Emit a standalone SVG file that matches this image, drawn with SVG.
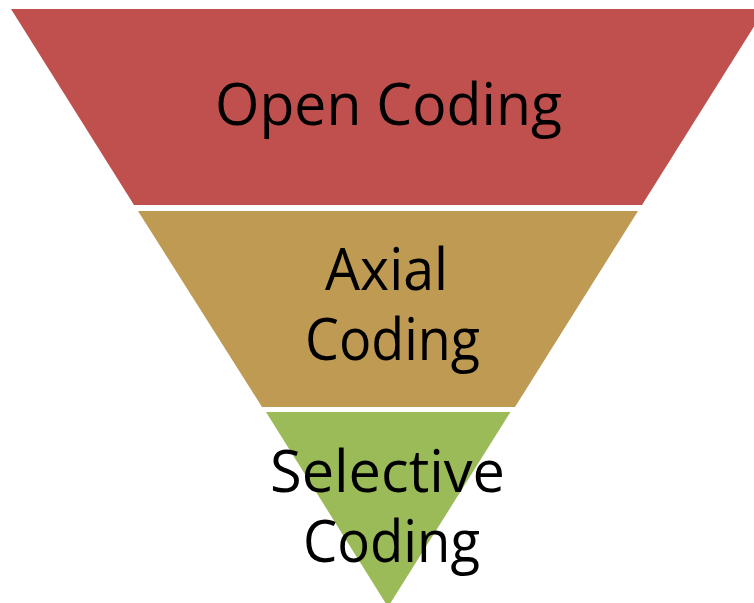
<svg xmlns="http://www.w3.org/2000/svg" width="754" height="603" viewBox="0 0 754 603">
  <style>
    .label { font-family: "Open Sans", "Noto Sans", sans-serif; font-size: 58px; fill: #000; text-anchor: middle; }
  </style>
  <rect width="754" height="603" fill="#ffffff"/>
  <g id="open-coding">
    <polygon points="11,9 765,9 642,205 134,205" fill="#C0504D"/>
    <text class="label" x="388.5" y="125" textLength="347" lengthAdjust="spacingAndGlyphs">Open Coding</text>
  </g>
  <g id="axial-coding">
    <polygon points="138,211 638,211 515,407 262,407" fill="#BE9A53"/>
    <text class="label" x="386.5" y="290" textLength="123" lengthAdjust="spacingAndGlyphs">Axial</text>
    <text class="label" x="392.5" y="360" textLength="175" lengthAdjust="spacingAndGlyphs">Coding</text>
  </g>
  <g id="selective-coding">
    <polygon points="266,412 510.5,412 388,607" fill="#9BBB59"/>
    <text class="label" x="387.5" y="492" textLength="235" lengthAdjust="spacingAndGlyphs">Selective</text>
    <text class="label" x="391.5" y="562" textLength="177" lengthAdjust="spacingAndGlyphs">Coding</text>
  </g>
  <g id="connectors"/>
</svg>
